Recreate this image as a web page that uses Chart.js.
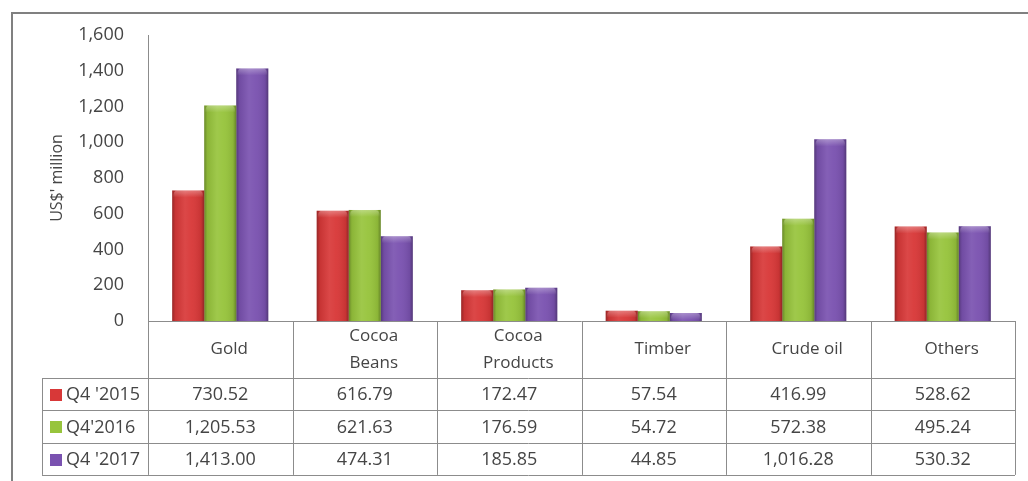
<!DOCTYPE html>
<html>
<head>
<meta charset="utf-8">
<script src="https://cdn.jsdelivr.net/npm/chart.js@4/dist/chart.umd.min.js"></script>
<style>
  html, body { margin: 0; padding: 0; background: #fff; }
  #wrap { width: 1028px; height: 481px; position: relative; }
</style>
</head>
<body>
<div id="wrap"><canvas id="myChart"></canvas></div>
<script>
// export values, US$ million
let categories = ['Gold', ['Cocoa', 'Beans'], ['Cocoa', 'Products'], 'Timber', 'Crude oil', 'Others'];
let seriesLabels = ["Q4 '2015", "Q4'2016", "Q4 '2017"];
let q4_2015 = [730.52, 616.79, 172.47, 57.54, 416.99, 528.62];
let q4_2016 = [1205.53, 621.63, 176.59, 54.72, 572.38, 495.24];
let q4_2017 = [1413.00, 474.31, 185.85, 44.85, 1016.28, 530.32];

let colors = ['#d83838', '#97c43c', '#7a52b0'];
let font = "'Open Sans', sans-serif";
let textColor = '#454545';
let lineColor = '#8c8c8c';

function fmt(v) {
    return v.toLocaleString('en-US', {minimumFractionDigits: 2, maximumFractionDigits: 2});
}

// outer frame
let framePlugin = {
    id: 'frame',
    beforeDraw(chart) {
        let c = chart.ctx;
        c.save();
        c.strokeStyle = '#808080';
        c.lineWidth = 2;
        c.beginPath();
        c.moveTo(12, chart.height + 5);
        c.lineTo(12, 13);
        c.lineTo(chart.width + 5, 13);
        c.stroke();
        c.restore();
    }
};

// shading on top of the flat bars: darker sides, lighter middle, soft rounded top
let shadePlugin = {
    id: 'shade',
    afterDatasetsDraw(chart) {
        let c = chart.ctx;
        c.save();
        chart.data.datasets.forEach((ds, di) => {
            chart.getDatasetMeta(di).data.forEach(el => {
                let p = el.getProps(['x', 'y', 'base', 'width'], true);
                let l = p.x - p.width / 2, r = p.x + p.width / 2;
                let h = p.base - p.y;
                let g = c.createLinearGradient(l, 0, r, 0);
                g.addColorStop(0, 'rgba(0,0,0,0.30)');
                g.addColorStop(0.1, 'rgba(0,0,0,0.08)');
                g.addColorStop(0.4, 'rgba(255,255,255,0.08)');
                g.addColorStop(0.6, 'rgba(255,255,255,0.04)');
                g.addColorStop(0.9, 'rgba(0,0,0,0.08)');
                g.addColorStop(1, 'rgba(0,0,0,0.32)');
                c.fillStyle = g;
                c.fillRect(l, p.y, p.width, h);
                let bh = Math.min(7, h);
                let vg = c.createLinearGradient(0, p.y, 0, p.y + bh);
                vg.addColorStop(0, 'rgba(255,255,255,0.30)');
                vg.addColorStop(1, 'rgba(255,255,255,0)');
                c.fillStyle = vg;
                c.beginPath();
                c.moveTo(l + 1, p.y + bh);
                c.quadraticCurveTo(l + 1, p.y, l + 5, p.y);
                c.lineTo(r - 5, p.y);
                c.quadraticCurveTo(r - 1, p.y, r - 1, p.y + bh);
                c.closePath();
                c.fill();
            });
        });
        c.restore();
    }
};

// data table under the plot
let tablePlugin = {
    id: 'table',
    afterDraw(chart) {
        let c = chart.ctx;
        let a = chart.chartArea;
        let xs = chart.scales.x;
        let n = categories.length;
        let colW = (a.right - a.left) / n;
        let headBottom = a.bottom + 57;
        let rowH = 32.3;
        let bottom = headBottom + rowH * 3;
        let legLeft = 42;

        c.save();
        c.strokeStyle = lineColor;
        c.lineWidth = 1;
        c.beginPath();
        // horizontal lines
        c.moveTo(a.left, a.bottom + 0.5); c.lineTo(a.right, a.bottom + 0.5);
        for (let i = 0; i <= 3; i++) {
            let y = Math.round(headBottom + rowH * i) + 0.5;
            c.moveTo(legLeft, y); c.lineTo(a.right, y);
        }
        // vertical lines
        for (let i = 0; i <= n; i++) {
            let x = Math.round(a.left + colW * i) + 0.5;
            c.moveTo(x, a.bottom); c.lineTo(x, bottom);
        }
        c.moveTo(legLeft + 0.5, headBottom); c.lineTo(legLeft + 0.5, bottom);
        c.stroke();

        c.fillStyle = textColor;
        c.font = '17px ' + font;
        c.textAlign = 'center';
        c.textBaseline = 'middle';
        categories.forEach((cat, i) => {
            let cx = xs.getPixelForValue(i) + 9;
            let lines = Array.isArray(cat) ? cat : [cat];
            let cy = (a.bottom + headBottom) / 2;
            lines.forEach((t, k) => {
                c.fillText(t, cx, cy + (k - (lines.length - 1) / 2) * 27);
            });
        });

        let rows = [q4_2015, q4_2016, q4_2017];
        c.font = '18px ' + font;
        rows.forEach((vals, r) => {
            let cy = headBottom + rowH * (r + 0.5) + 1;
            vals.forEach((v, i) => {
                c.fillText(fmt(v), xs.getPixelForValue(i), cy);
            });
            // legend key
            c.fillStyle = colors[r];
            c.fillRect(50, Math.round(cy - 6), 12, 12);
            c.fillStyle = textColor;
            c.textAlign = 'left';
            c.fillText(seriesLabels[r], 66, cy);
            c.textAlign = 'center';
        });
        c.restore();
    }
};

let myChart = document.getElementById('myChart').getContext('2d');

let exportChart = new Chart(myChart, {
    type: 'bar',
    data: {
        labels: categories,
        datasets: [
            { label: seriesLabels[0], data: q4_2015, backgroundColor: colors[0] },
            { label: seriesLabels[1], data: q4_2016, backgroundColor: colors[1] },
            { label: seriesLabels[2], data: q4_2017, backgroundColor: colors[2] }
        ]
    },
    options: {
        responsive: true,
        maintainAspectRatio: false,
        animation: false,
        devicePixelRatio: 1,
        categoryPercentage: 0.665,
        barPercentage: 1.0,
        layout: { padding: { left: 0, top: 35, right: 13, bottom: 160 } },
        plugins: {
            legend: { display: false },
            tooltip: { enabled: false }
        },
        scales: {
            x: {
                display: false
            },
            y: {
                min: 0,
                max: 1600,
                afterFit(scale) { scale.width = 148; },
                grid: { display: false, drawTicks: false },
                border: { display: true, color: lineColor, width: 1 },
                ticks: {
                    stepSize: 200,
                    padding: 24,
                    color: textColor,
                    font: { family: font, size: 18 },
                    callback: v => v.toLocaleString('en-US')
                },
                title: {
                    display: true,
                    text: "US$' million",
                    color: textColor,
                    font: { family: font, size: 16 },
                    padding: { top: 48, bottom: 0 }
                }
            }
        }
    },
    plugins: [framePlugin, shadePlugin, tablePlugin]
});
</script>
</body>
</html>
